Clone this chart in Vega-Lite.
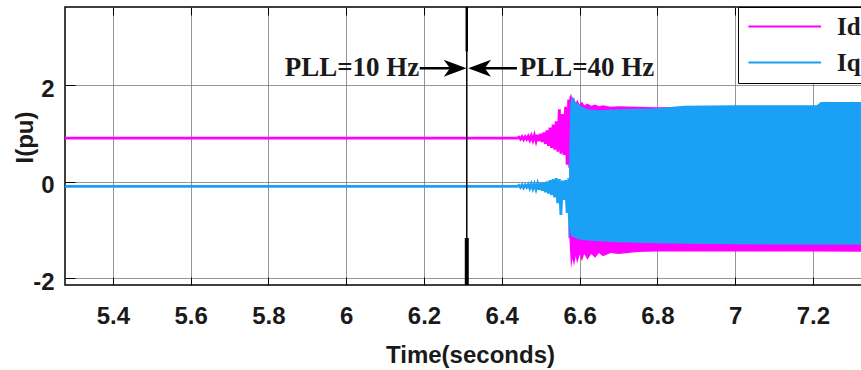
{
  "$schema": "https://vega.github.io/schema/vega-lite/v6.json",
  "width": 830,
  "height": 278,
  "autosize": {"type": "none"},
  "padding": {"left": 65, "top": 7, "right": 0, "bottom": 85},
  "background": "white",
  "config": {
    "view": {"stroke": "black", "strokeWidth": 1.5},
    "axis": {
      "labelFont": "Liberation Sans", "labelFontWeight": "bold", "labelFontSize": 24, "labelColor": "#1a1a1a",
      "titleFont": "Liberation Sans", "titleFontWeight": "bold", "titleFontSize": 24, "titleColor": "#1a1a1a",
      "tickColor": "black", "tickWidth": 1, "domain": false,
      "gridColor": "#7a7a7a", "gridWidth": 1, "gridOpacity": 0.8
    }
  },
  "datasets": {
    "lines": [
      {"s": "Id", "t": 5.277, "v": 0.9}, {"s": "Id", "t": 6.44, "v": 0.9},
      {"s": "Id", "t": 6.444, "v": 0.92}, {"s": "Id", "t": 6.448, "v": 0.88}, {"s": "Id", "t": 6.452, "v": 0.93}, {"s": "Id", "t": 6.456, "v": 0.87},
      {"s": "Id", "t": 6.46, "v": 0.93}, {"s": "Id", "t": 6.464, "v": 0.88}, {"s": "Id", "t": 6.468, "v": 0.94}, {"s": "Id", "t": 6.472, "v": 0.86},
      {"s": "Id", "t": 6.476, "v": 0.95}, {"s": "Id", "t": 6.48, "v": 0.85}, {"s": "Id", "t": 6.484, "v": 0.96}, {"s": "Id", "t": 6.488, "v": 0.84},
      {"s": "Id", "t": 6.492, "v": 0.97}, {"s": "Id", "t": 6.496, "v": 0.84}, {"s": "Id", "t": 6.5, "v": 0.99}, {"s": "Id", "t": 6.504, "v": 0.82},
      {"s": "Id", "t": 6.508, "v": 1.02}, {"s": "Id", "t": 6.512, "v": 0.78}, {"s": "Id", "t": 6.516, "v": 1.06}, {"s": "Id", "t": 6.52, "v": 0.74},
      {"s": "Id", "t": 6.524, "v": 1.12}, {"s": "Id", "t": 6.528, "v": 0.7}, {"s": "Id", "t": 6.532, "v": 1.18}, {"s": "Id", "t": 6.536, "v": 0.66},
      {"s": "Id", "t": 6.54, "v": 1.25}, {"s": "Id", "t": 6.544, "v": 0.62}, {"s": "Id", "t": 6.548, "v": 1.5}, {"s": "Id", "t": 6.552, "v": 0.58},
      {"s": "Id", "t": 6.556, "v": 1.4}, {"s": "Id", "t": 6.56, "v": 0.55}, {"s": "Id", "t": 6.564, "v": 1.55}, {"s": "Id", "t": 6.568, "v": 0.35},
      {"s": "Id", "t": 6.572, "v": 1.7}, {"s": "Id", "t": 6.575, "v": 0.28},
      {"s": "Iq", "t": 5.277, "v": -0.1}, {"s": "Iq", "t": 6.44, "v": -0.1},
      {"s": "Iq", "t": 6.444, "v": -0.08}, {"s": "Iq", "t": 6.448, "v": -0.12}, {"s": "Iq", "t": 6.452, "v": -0.07}, {"s": "Iq", "t": 6.456, "v": -0.13},
      {"s": "Iq", "t": 6.46, "v": -0.07}, {"s": "Iq", "t": 6.464, "v": -0.12}, {"s": "Iq", "t": 6.468, "v": -0.06}, {"s": "Iq", "t": 6.472, "v": -0.14},
      {"s": "Iq", "t": 6.476, "v": -0.05}, {"s": "Iq", "t": 6.48, "v": -0.15}, {"s": "Iq", "t": 6.484, "v": -0.05}, {"s": "Iq", "t": 6.488, "v": -0.16},
      {"s": "Iq", "t": 6.492, "v": -0.04}, {"s": "Iq", "t": 6.496, "v": -0.17}, {"s": "Iq", "t": 6.5, "v": -0.03}, {"s": "Iq", "t": 6.504, "v": -0.19},
      {"s": "Iq", "t": 6.508, "v": -0.02}, {"s": "Iq", "t": 6.512, "v": -0.22}, {"s": "Iq", "t": 6.516, "v": 0.0}, {"s": "Iq", "t": 6.52, "v": -0.25},
      {"s": "Iq", "t": 6.524, "v": 0.03}, {"s": "Iq", "t": 6.528, "v": -0.28}, {"s": "Iq", "t": 6.532, "v": 0.05}, {"s": "Iq", "t": 6.536, "v": -0.33},
      {"s": "Iq", "t": 6.54, "v": 0.07}, {"s": "Iq", "t": 6.544, "v": -0.45}, {"s": "Iq", "t": 6.548, "v": 0.05}, {"s": "Iq", "t": 6.552, "v": -0.69},
      {"s": "Iq", "t": 6.556, "v": 0.02}, {"s": "Iq", "t": 6.56, "v": -0.38}, {"s": "Iq", "t": 6.564, "v": 0.03}, {"s": "Iq", "t": 6.568, "v": -0.65},
      {"s": "Iq", "t": 6.572, "v": 0.07}, {"s": "Iq", "t": 6.575, "v": -1.17}
    ],
    "band": [
      {"s": "Id", "t": 6.574, "hi": 1.75, "lo": -1.2},
      {"s": "Id", "t": 6.578, "hi": 1.82, "lo": -1.8},
      {"s": "Id", "t": 6.582, "hi": 1.7, "lo": -1.6},
      {"s": "Id", "t": 6.586, "hi": 1.75, "lo": -1.75},
      {"s": "Id", "t": 6.59, "hi": 1.62, "lo": -1.55},
      {"s": "Id", "t": 6.594, "hi": 1.7, "lo": -1.7},
      {"s": "Id", "t": 6.6, "hi": 1.6, "lo": -1.52},
      {"s": "Id", "t": 6.606, "hi": 1.66, "lo": -1.65},
      {"s": "Id", "t": 6.612, "hi": 1.58, "lo": -1.5},
      {"s": "Id", "t": 6.62, "hi": 1.62, "lo": -1.62},
      {"s": "Id", "t": 6.63, "hi": 1.57, "lo": -1.5},
      {"s": "Id", "t": 6.64, "hi": 1.6, "lo": -1.58},
      {"s": "Id", "t": 6.65, "hi": 1.56, "lo": -1.48},
      {"s": "Id", "t": 6.66, "hi": 1.58, "lo": -1.55},
      {"s": "Id", "t": 6.68, "hi": 1.55, "lo": -1.48},
      {"s": "Id", "t": 6.7, "hi": 1.56, "lo": -1.5},
      {"s": "Id", "t": 6.75, "hi": 1.55, "lo": -1.46},
      {"s": "Id", "t": 6.8, "hi": 1.54, "lo": -1.45},
      {"s": "Id", "t": 6.87, "hi": 1.55, "lo": -1.45},
      {"s": "Id", "t": 7.0, "hi": 1.55, "lo": -1.45},
      {"s": "Id", "t": 7.2, "hi": 1.56, "lo": -1.45},
      {"s": "Id", "t": 7.411, "hi": 1.58, "lo": -1.46},
      {"s": "Iq", "t": 6.573, "hi": 0.3, "lo": -0.9},
      {"s": "Iq", "t": 6.576, "hi": 1.6, "lo": -1.05},
      {"s": "Iq", "t": 6.58, "hi": 1.78, "lo": -1.15},
      {"s": "Iq", "t": 6.585, "hi": 1.7, "lo": -1.15},
      {"s": "Iq", "t": 6.59, "hi": 1.65, "lo": -1.18},
      {"s": "Iq", "t": 6.6, "hi": 1.58, "lo": -1.2},
      {"s": "Iq", "t": 6.62, "hi": 1.5, "lo": -1.22},
      {"s": "Iq", "t": 6.65, "hi": 1.48, "lo": -1.24},
      {"s": "Iq", "t": 6.7, "hi": 1.5, "lo": -1.26},
      {"s": "Iq", "t": 6.8, "hi": 1.52, "lo": -1.28},
      {"s": "Iq", "t": 6.87, "hi": 1.57, "lo": -1.29},
      {"s": "Iq", "t": 7.0, "hi": 1.58, "lo": -1.3},
      {"s": "Iq", "t": 7.21, "hi": 1.58, "lo": -1.31},
      {"s": "Iq", "t": 7.22, "hi": 1.65, "lo": -1.31},
      {"s": "Iq", "t": 7.411, "hi": 1.65, "lo": -1.31}
    ],
    "marker": [
      {"t": 6.31, "lo": -2.145, "hi": 3.62, "w": "thin"},
      {"t": 6.31, "lo": 2.7, "hi": 3.62, "w": "mid"},
      {"t": 6.31, "lo": -2.145, "hi": -1.17, "w": "thick"}
    ],
    "arrows": [
      {"g": "a", "t": 6.189, "v": 2.35},
      {"g": "a", "t": 6.28, "v": 2.35},
      {"g": "b", "t": 6.343, "v": 2.35},
      {"g": "b", "t": 6.439, "v": 2.35}
    ],
    "heads": [
      {"t": 6.28, "v": 2.35, "dir": "right"},
      {"t": 6.343, "v": 2.35, "dir": "left"}
    ],
    "notesL": [
      {"t": 6.188, "v": 2.35, "label": "PLL=10 Hz"}
    ],
    "notesR": [
      {"t": 6.446, "v": 2.35, "label": "PLL=40 Hz"}
    ]
  },
  "resolve": {"axis": {"x": "independent", "y": "independent"}},
  "layer": [
    {
      "data": {"name": "lines"},
      "mark": {"type": "line", "strokeWidth": 2.8, "interpolate": "linear"},
      "encoding": {
        "x": {"field": "t", "type": "quantitative",
              "scale": {"domain": [5.277, 7.411], "nice": false, "zero": false},
              "axis": {"orient": "bottom", "values": [5.4, 5.6, 5.8, 6, 6.2, 6.4, 6.6, 6.8, 7, 7.2], "format": "~g",
                       "offset": -8, "tickSize": 8, "labelPadding": 19, "title": "Time(seconds)",
                       "titleX": 405, "titleY": 78, "titleBaseline": "middle", "titleAnchor": null}},
        "y": {"field": "v", "type": "quantitative",
              "scale": {"domain": [-2.145, 3.62], "nice": false, "zero": false},
              "axis": {"values": [-2, 0, 2], "offset": -10, "tickSize": 10, "labelPadding": 11, "labelOffset": 4,
                       "labelExpr": "datum.value < 0 ? '-' + abs(datum.value) : '' + datum.value",
                       "title": "I(pu)",
                       "titleX": -50, "titleY": 130, "titleBaseline": "middle", "titleAngle": -90}},
        "color": {"field": "s", "type": "nominal",
                  "scale": {"domain": ["Id", "Iq"], "range": ["#ff00ff", "#1aa0f5"]},
                  "legend": {"orient": "none", "legendX": 673, "legendY": 0, "title": null,
                             "strokeColor": "black", "fillColor": "white", "padding": 7,
                             "symbolType": "M-1,0H7", "symbolSize": 330, "symbolStrokeWidth": 2,
                             "labelFont": "Liberation Serif", "labelFontWeight": "bold", "labelFontSize": 25,
                             "labelColor": "#1a1a1a", "labelOffset": 67, "rowPadding": 10}},
        "detail": {"field": "s"}
      }
    },
    {
      "data": {"name": "band"},
      "mark": {"type": "area", "opacity": 1},
      "encoding": {
        "x": {"field": "t", "type": "quantitative", "axis": null},
        "y": {"field": "hi", "type": "quantitative", "axis": null},
        "y2": {"field": "lo"},
        "color": {"field": "s", "type": "nominal", "legend": null}
      }
    },
    {
      "data": {"name": "marker"},
      "transform": [{"filter": "datum.w == 'thin'"}],
      "mark": {"type": "rule", "color": "black", "strokeWidth": 1.5},
      "encoding": {
        "x": {"field": "t", "type": "quantitative",
              "axis": {"orient": "top", "values": [5.4, 5.6, 5.8, 6, 6.2, 6.4, 6.6, 6.8, 7, 7.2],
                       "labels": false, "grid": false, "offset": -8, "tickSize": 8, "title": null}},
        "y": {"field": "lo", "type": "quantitative", "axis": null},
        "y2": {"field": "hi"}
      }
    },
    {
      "data": {"name": "marker"},
      "transform": [{"filter": "datum.w == 'mid'"}],
      "mark": {"type": "rule", "color": "black", "strokeWidth": 2.5},
      "encoding": {
        "x": {"field": "t", "type": "quantitative", "axis": null},
        "y": {"field": "lo", "type": "quantitative", "axis": null},
        "y2": {"field": "hi"}
      }
    },
    {
      "data": {"name": "marker"},
      "transform": [{"filter": "datum.w == 'thick'"}],
      "mark": {"type": "rule", "color": "black", "strokeWidth": 4},
      "encoding": {
        "x": {"field": "t", "type": "quantitative", "axis": null},
        "y": {"field": "lo", "type": "quantitative", "axis": null},
        "y2": {"field": "hi"}
      }
    },
    {
      "data": {"name": "arrows"},
      "mark": {"type": "line", "color": "black", "strokeWidth": 2.5},
      "encoding": {
        "x": {"field": "t", "type": "quantitative", "axis": null},
        "y": {"field": "v", "type": "quantitative", "axis": null},
        "detail": {"field": "g"}
      }
    },
    {
      "data": {"name": "heads"},
      "mark": {"type": "point", "filled": true, "color": "black", "opacity": 1, "size": 520},
      "encoding": {
        "x": {"field": "t", "type": "quantitative", "axis": null},
        "y": {"field": "v", "type": "quantitative", "axis": null},
        "shape": {"field": "dir", "type": "nominal",
                  "scale": {"domain": ["right", "left"], "range": ["M1,0L-1,-0.75L-0.45,0L-1,0.75Z", "M-1,0L1,-0.75L0.45,0L1,0.75Z"]},
                  "legend": null}
      }
    },
    {
      "data": {"name": "notesL"},
      "mark": {"type": "text", "font": "Liberation Serif", "fontWeight": "bold", "fontSize": 27, "color": "#1a1a1a", "baseline": "middle", "align": "right"},
      "encoding": {
        "x": {"field": "t", "type": "quantitative", "axis": null},
        "y": {"field": "v", "type": "quantitative", "axis": null},
        "text": {"field": "label"}
      }
    },
    {
      "data": {"name": "notesR"},
      "mark": {"type": "text", "font": "Liberation Serif", "fontWeight": "bold", "fontSize": 27, "color": "#1a1a1a", "baseline": "middle", "align": "left"},
      "encoding": {
        "x": {"field": "t", "type": "quantitative", "axis": null},
        "y": {"field": "v", "type": "quantitative", "axis": null},
        "text": {"field": "label"}
      }
    }
  ]
}
